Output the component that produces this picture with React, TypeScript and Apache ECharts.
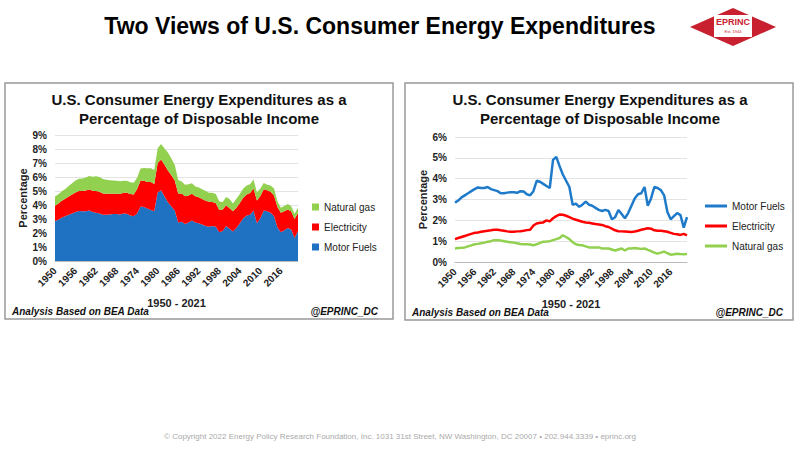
import React, { useRef, useEffect } from 'react'
import * as echarts from 'echarts'

const YEARS = Array.from({ length: 72 }, (_, i) => String(1950 + i))

const MOTOR_FUELS = [
  2.85, 2.95, 3.1, 3.2, 3.3, 3.4, 3.5, 3.58, 3.55, 3.55,
  3.6, 3.5, 3.45, 3.4, 3.3, 3.3, 3.33, 3.35, 3.35, 3.32,
  3.4, 3.38, 3.25, 3.2, 3.4, 3.9, 3.85, 3.75, 3.65, 3.55,
  4.9, 5.05, 4.6, 4.2, 3.9, 3.6, 2.75, 2.8, 2.65, 2.75,
  2.9, 2.75, 2.7, 2.6, 2.5, 2.45, 2.5, 2.45, 2.05, 2.15,
  2.5, 2.3, 2.1, 2.35, 2.7, 3.05, 3.25, 3.3, 3.6, 2.7,
  3.05, 3.6, 3.55, 3.45, 3.2, 2.4, 2.05, 2.2, 2.35, 2.25,
  1.65, 2.15,
]
const ELECTRICITY = [
  1.1, 1.15, 1.2, 1.25, 1.3, 1.35, 1.4, 1.42, 1.45, 1.48,
  1.5, 1.52, 1.55, 1.55, 1.52, 1.5, 1.47, 1.45, 1.45, 1.47,
  1.48, 1.5, 1.53, 1.55, 1.75, 1.85, 1.88, 1.9, 2.0, 1.95,
  2.1, 2.2, 2.28, 2.27, 2.22, 2.15, 2.08, 2.03, 1.98, 1.93,
  1.9, 1.88, 1.85, 1.82, 1.8, 1.78, 1.72, 1.68, 1.6, 1.52,
  1.48, 1.47, 1.46, 1.45, 1.44, 1.46, 1.5, 1.55, 1.58, 1.62,
  1.6, 1.52, 1.5, 1.5, 1.48, 1.45, 1.4, 1.35, 1.33, 1.3,
  1.35, 1.28,
]
const NATURAL_GAS = [
  0.65, 0.67, 0.68, 0.7, 0.75, 0.8, 0.85, 0.87, 0.9, 0.93,
  0.97, 1.0, 1.05, 1.05, 1.03, 1.0, 0.97, 0.95, 0.93, 0.9,
  0.86, 0.85, 0.85, 0.84, 0.8, 0.85, 0.92, 0.97, 0.98, 1.0,
  1.05, 1.1, 1.15, 1.28, 1.2, 1.1, 0.95, 0.85, 0.82, 0.8,
  0.75, 0.7, 0.7, 0.7, 0.7, 0.65, 0.65, 0.65, 0.6, 0.55,
  0.6, 0.65, 0.55, 0.65, 0.65, 0.67, 0.65, 0.63, 0.65, 0.58,
  0.52, 0.45, 0.4, 0.45, 0.5, 0.42, 0.35, 0.37, 0.4, 0.38,
  0.37, 0.38,
]

const BLUE = '#1f72c1'
const RED = '#ff0000'
const GREEN = '#92d050'
const LINE_BLUE = '#1f7bc9'
const FONT = 'Liberation Sans, Arial, sans-serif'

const axisLabel = {
  interval: 5,
  rotate: 45,
  fontSize: 10,
  fontWeight: 'bold',
  color: '#222',
  fontFamily: FONT,
}

function xAxis(gridIndex: number) {
  return {
    type: 'category',
    gridIndex,
    data: YEARS,
    boundaryGap: false,
    axisTick: { show: false },
    axisLine: { lineStyle: { color: '#bbb' } },
    axisLabel,
    name: '1950 - 2021',
    nameLocation: 'middle',
    nameGap: 36,
    nameTextStyle: { fontSize: 11, fontWeight: 'bold', color: '#222', fontFamily: FONT },
  }
}

function yAxis(gridIndex: number, max: number) {
  return {
    type: 'value',
    gridIndex,
    min: 0,
    max,
    interval: 1,
    name: 'Percentage',
    nameLocation: 'middle',
    nameGap: 27,
    nameTextStyle: { fontSize: 11, fontWeight: 'bold', color: '#222', fontFamily: FONT },
    axisLabel: { formatter: '{value}%', fontSize: 10, fontWeight: 'bold', color: '#222', fontFamily: FONT },
    splitLine: { lineStyle: { color: '#e3e3e3' } },
  }
}

function chartTitle(cx: number) {
  return {
    type: 'text',
    x: cx,
    y: 90,
    style: {
      text: 'U.S. Consumer Energy Expenditures as a\nPercentage of Disposable Income',
      fontSize: 15,
      fontWeight: 'bold',
      lineHeight: 19,
      fill: '#111',
      fontFamily: FONT,
      align: 'center',
    },
  }
}

function footers(left: number, right: number, y: number) {
  const s = { fontSize: 10, fontWeight: 'bold', fontStyle: 'italic', fill: '#111', fontFamily: FONT }
  return [
    { type: 'text', x: left, y, style: { ...s, text: 'Analysis Based on BEA Data' } },
    { type: 'text', x: right, y, style: { ...s, text: '@EPRINC_DC', align: 'right' } },
  ]
}

const legendText = { fontSize: 10, color: '#222', fontFamily: FONT }

export default function App() {
  const ref = useRef<HTMLDivElement>(null)

  useEffect(() => {
    document.body.style.margin = '0'
    if (!ref.current) return
    const chart = echarts.init(ref.current, null, { renderer: 'svg' })
    chart.setOption({
      animation: false,
      backgroundColor: '#fff',
      grid: [
        { left: 55, top: 135, width: 243, height: 126 },
        { left: 455, top: 137, width: 232, height: 125 },
      ],
      xAxis: [xAxis(0), xAxis(1)],
      yAxis: [yAxis(0, 9), yAxis(1, 6)],
      legend: [
        {
          data: ['Natural gas', 'Electricity', 'Motor Fuels'],
          orient: 'vertical',
          left: 307,
          top: 197,
          itemWidth: 7,
          itemHeight: 7,
          itemGap: 10,
          icon: 'rect',
          textStyle: legendText,
          selectedMode: false,
        },
        {
          data: ['Motor Fuels ', 'Electricity ', 'Natural gas '],
          orient: 'vertical',
          left: 700,
          top: 196,
          itemWidth: 22,
          itemHeight: 3,
          itemGap: 10,
          icon: 'rect',
          textStyle: legendText,
          selectedMode: false,
        },
      ],
      graphic: [
        {
          type: 'text',
          x: 380,
          y: 14,
          style: {
            text: 'Two Views of U.S. Consumer Energy Expenditures',
            fontSize: 23,
            fontWeight: 'bold',
            fill: '#000',
            fontFamily: FONT,
            align: 'center',
          },
        },
        {
          type: 'polygon',
          shape: { points: [[690, 27], [733, 8], [776, 27], [733, 46]] },
          style: { fill: '#c8202f' },
        },
        { type: 'rect', shape: { x: 714, y: 15, width: 38, height: 22 }, style: { fill: '#fff' } },
        {
          type: 'text',
          x: 733,
          y: 17,
          style: { text: 'EPRINC', fontSize: 9, fontWeight: 'bold', fill: '#c8202f', align: 'center', fontFamily: FONT },
        },
        {
          type: 'text',
          x: 733,
          y: 29,
          style: { text: 'Est. 1944', fontSize: 4, fill: '#c8202f', align: 'center', fontFamily: FONT },
        },
        {
          type: 'rect',
          shape: { x: 5, y: 83, width: 388, height: 236 },
          style: { fill: 'none', stroke: '#999', lineWidth: 1.5 },
        },
        {
          type: 'rect',
          shape: { x: 405, y: 83, width: 388, height: 237 },
          style: { fill: 'none', stroke: '#999', lineWidth: 1.5 },
        },
        chartTitle(199),
        chartTitle(600),
        ...footers(12, 378, 306),
        ...footers(412, 783, 307),
        {
          type: 'text',
          x: 400,
          y: 432,
          style: {
            text: '© Copyright 2022 Energy Policy Research Foundation, Inc. 1031 31st Street, NW Washington, DC 20007 • 202.944.3339 • eprinc.org',
            fontSize: 8,
            fill: '#aaa',
            align: 'center',
            fontFamily: FONT,
          },
        },
      ],
      series: [
        { name: 'Motor Fuels', type: 'line', stack: 'a', data: MOTOR_FUELS, symbol: 'none', lineStyle: { width: 0 }, areaStyle: { color: BLUE, opacity: 1 }, itemStyle: { color: BLUE } },
        { name: 'Electricity', type: 'line', stack: 'a', data: ELECTRICITY, symbol: 'none', lineStyle: { width: 0 }, areaStyle: { color: RED, opacity: 1 }, itemStyle: { color: RED } },
        { name: 'Natural gas', type: 'line', stack: 'a', data: NATURAL_GAS, symbol: 'none', lineStyle: { width: 0 }, areaStyle: { color: GREEN, opacity: 1 }, itemStyle: { color: GREEN } },
        { name: 'Motor Fuels ', type: 'line', xAxisIndex: 1, yAxisIndex: 1, data: MOTOR_FUELS, symbol: 'none', lineStyle: { width: 2.5, color: LINE_BLUE }, itemStyle: { color: LINE_BLUE } },
        { name: 'Electricity ', type: 'line', xAxisIndex: 1, yAxisIndex: 1, data: ELECTRICITY, symbol: 'none', lineStyle: { width: 2.5, color: RED }, itemStyle: { color: RED } },
        { name: 'Natural gas ', type: 'line', xAxisIndex: 1, yAxisIndex: 1, data: NATURAL_GAS, symbol: 'none', lineStyle: { width: 2.5, color: GREEN }, itemStyle: { color: GREEN } },
      ],
    })
    return () => chart.dispose()
  }, [])

  return <div ref={ref} style={{ width: 800, height: 451 }} />
}
